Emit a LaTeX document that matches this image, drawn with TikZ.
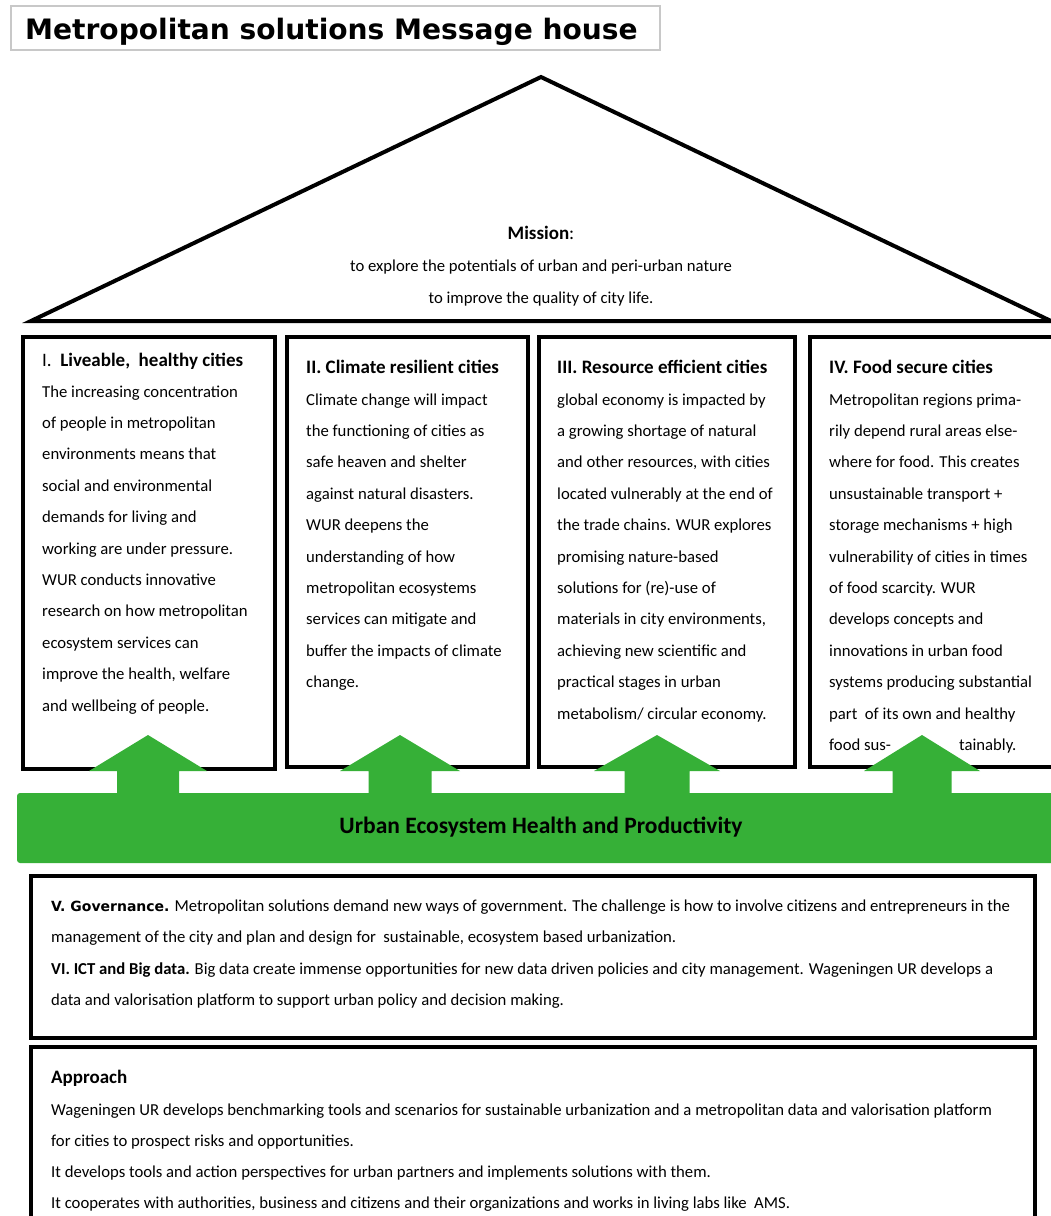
\documentclass[tikz,border=0pt]{standalone}
\usepackage{fontspec}
\setmainfont{Carlito}
\newfontfamily\titlefont{DejaVu Sans}
\definecolor{ecogreen}{RGB}{54,176,55}
\definecolor{titlegray}{RGB}{200,200,200}
\newcommand\putlines[5]{%
  \foreach \t [count=\i from 0] in {#5} {\node[bodytxt] (#1-\i) at (#2,{#3+#4*\i}) {\t};}}
\begin{document}
\begin{tikzpicture}[x=1pt,y=-1pt,
  pillar/.style={draw=black, line width=3.5pt},
  bodytxt/.style={font=\fontsize{16.7}{20}\selectfont, inner sep=0pt, anchor=base west},
  headtxt/.style={font=\fontsize{19}{22}\selectfont, inner sep=0pt, anchor=base west},
  greenarrow/.style={fill=ecogreen, draw=none}]
\useasboundingbox (0,0) rectangle (1050,1216);
\fill[white] (0,0) rectangle (1050,1216);

% title
\draw[titlegray, line width=1.2pt] (11,6) rectangle (660,50);
\node[inner sep=0pt, anchor=base west, font=\titlefont\bfseries\fontsize{28.1}{31}\selectfont] (title) at (25,39.5) {Metropolitan solutions Message house};

% roof
\draw[line width=4pt, line join=miter] (31,321) -- (541,77) -- (1051,321) -- cycle;
\node[inner sep=0pt, anchor=base, font=\fontsize{19}{22}\selectfont] (mission) at (541,239) {\textbf{Mission}:};
\node[inner sep=0pt, anchor=base, font=\fontsize{16.7}{20}\selectfont] (mission1) at (541,271) {to explore the potentials of urban and peri-urban nature};
\node[inner sep=0pt, anchor=base, font=\fontsize{16.7}{20}\selectfont] (mission2) at (541,303) {to improve the quality of city life.};

% pillars
\draw[pillar] (23,337) rectangle (275,769);
\draw[pillar] (287,337) rectangle (528,767);
\draw[pillar] (539,337) rectangle (795,767);
\draw[pillar] (810,337) rectangle (1060,767);

\node[headtxt] (h1) at (42,366) {I.\ \ \textbf{Liveable,\ \ healthy cities}};
\node[headtxt] (h2) at (306,373) {\textbf{II. Climate resilient cities}};
\node[headtxt] (h3) at (557,373) {\textbf{III. Resource efficient cities}};
\node[headtxt] (h4) at (829,373) {\textbf{IV. Food secure cities}};

\putlines{a}{42}{397}{31.4}{{The increasing concentration},{of people in metropolitan},{environments means that},{social and environmental},{demands for living and},{working are under pressure.},{WUR conducts innovative},{research on how metropolitan},{ecosystem services can},{improve the health, welfare},{and wellbeing of people.}}
\putlines{b}{306}{405}{31.4}{{Climate change will impact},{the functioning of cities as},{safe heaven and shelter},{against natural disasters.},{WUR deepens the},{understanding of how},{metropolitan ecosystems},{services can mitigate and},{buffer the impacts of climate},{change.}}
\putlines{c}{557}{405}{31.4}{{global economy is impacted by},{a growing shortage of natural},{and other resources, with cities},{located vulnerably at the end of},{the trade chains. WUR explores},{promising nature-based},{solutions for (re)-use of},{materials in city environments,},{achieving new scientific and},{practical stages in urban},{metabolism/ circular economy.}}
\putlines{d}{829}{405}{31.4}{{Metropolitan regions prima-},{rily depend rural areas else-},{where for food. This creates},{unsustainable transport +},{storage mechanisms + high},{vulnerability of cities in times},{of food scarcity. WUR},{develops concepts and},{innovations in urban food},{systems producing substantial},{part\ \ of its own and healthy},{food sus-}}
\node[bodytxt] (d-tail) at (959,750.4) {tainably.};

% green arrows
\foreach \cx/\hw/\sw [count=\k] in {148/59/31, 400/60/31.5, 657/63/32.5, 922/58/29.5} {
  \fill[greenarrow] (\cx-\hw,771) -- (\cx,735) -- (\cx+\hw,771) -- (\cx+\sw,771) -- (\cx+\sw,797) -- (\cx-\sw,797) -- (\cx-\sw,771) -- cycle;
}

% green band
\fill[ecogreen, rounded corners=3pt] (17,793) rectangle (1070,863);
\node[inner sep=0pt, anchor=base, font=\fontsize{23.5}{26}\selectfont\bfseries] (band) at (541,833) {Urban Ecosystem Health and Productivity};

% governance
\draw[pillar] (31,876) rectangle (1035,1038);
\node[bodytxt] (g1) at (51,911) {{\titlefont\bfseries\fontsize{14}{16}\selectfont V. Governance.} Metropolitan solutions demand new ways of government. The challenge is how to involve citizens and entrepreneurs in the};
\node[bodytxt] (g2) at (51,942.5) {management of the city and plan and design for\ \ sustainable, ecosystem based urbanization.};
\node[bodytxt] (g3) at (51,974) {\textbf{VI. ICT and Big data.} Big data create immense opportunities for new data driven policies and city management. Wageningen UR develops a};
\node[bodytxt] (g4) at (51,1005) {data and valorisation platform to support urban policy and decision making.};

% approach
\draw[pillar] (31,1047) rectangle (1035,1230);
\node[headtxt] (ap) at (51,1083) {\textbf{Approach}};
\putlines{e}{51}{1115}{31.3}{{Wageningen UR develops benchmarking tools and scenarios for sustainable urbanization and a metropolitan data and valorisation platform},{for cities to prospect risks and opportunities.},{It develops tools and action perspectives for urban partners and implements solutions with them.},{It cooperates with authorities, business and citizens and their organizations and works in living labs like\ \ AMS.}}
\end{tikzpicture}
\end{document}
